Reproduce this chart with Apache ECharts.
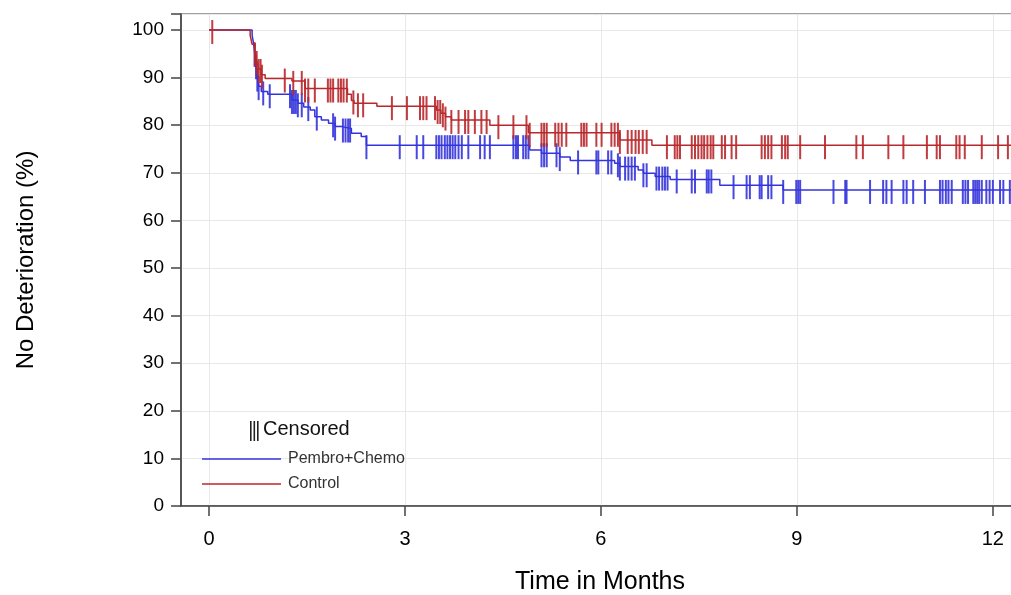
<!DOCTYPE html>
<html>
<head>
<meta charset="utf-8">
<script src="https://cdn.jsdelivr.net/npm/echarts@6/dist/echarts.min.js"></script>
<style>
html,body{margin:0;padding:0;background:#fff;}
#chart{width:1011px;height:595px;}
</style>
</head>
<body>
<div id="chart"></div>
<script>
// ---- Data ----
var seriesNames = ['Pembro+Chemo', 'Control'];
var xTicks = [0, 3, 6, 9, 12];

// Kaplan-Meier step points [month, % no deterioration]
var pembroSteps = [
  [0, 100], [0.66, 98.9], [0.68, 97.4], [0.70, 95.2], [0.72, 92.6], [0.74, 90.0],
  [0.76, 88.2], [0.80, 87.1], [0.90, 86.5], [1.27, 85.3], [1.36, 84.6], [1.45, 83.8],
  [1.55, 83.2], [1.62, 81.8], [1.72, 81.1], [1.83, 80.4], [1.93, 79.7], [2.03, 79.3],
  [2.18, 78.3], [2.33, 77.6], [2.41, 75.8], [4.91, 74.8], [5.09, 74.1], [5.37, 73.3],
  [5.53, 72.6], [6.21, 72.0], [6.29, 71.3], [6.57, 70.6], [6.65, 69.9], [6.83, 69.2],
  [7.06, 68.6], [7.82, 67.4], [8.79, 66.4], [12.4, 66.4]
];
var controlSteps = [
  [0, 100], [0.63, 98.9], [0.66, 97.0], [0.70, 95.3], [0.73, 93.5], [0.76, 91.8],
  [0.80, 90.6], [0.86, 89.8], [1.27, 89.3], [1.47, 87.7], [2.12, 86.5], [2.18, 85.2],
  [2.22, 84.6], [2.57, 84.0], [3.48, 83.2], [3.55, 82.5], [3.62, 81.8], [3.71, 81.1],
  [4.30, 80.0], [4.89, 78.4], [6.29, 76.9], [6.78, 75.8], [12.4, 75.8]
];

// Censoring times (months)
var pembroCensor = [
  0.70, 0.72, 0.74, 0.76, 0.83, 0.93, 1.24, 1.27, 1.30, 1.33, 1.36, 1.42, 1.52, 1.65,
  1.90, 1.93, 2.05, 2.09, 2.13, 2.16, 2.41, 2.92, 3.18, 3.28, 3.48, 3.52, 3.56, 3.61,
  3.65, 3.69, 3.73, 3.77, 3.82, 3.87, 3.97, 4.15, 4.22, 4.30, 4.66, 4.70, 4.73, 4.81,
  4.85, 4.89, 5.09, 5.13, 5.17, 5.32, 5.37, 5.65, 5.93, 5.96, 6.11, 6.16, 6.26, 6.29,
  6.37, 6.42, 6.47, 6.52, 6.65, 6.70, 6.85, 6.89, 6.94, 6.98, 7.02, 7.16, 7.39, 7.44,
  7.62, 7.65, 7.69, 8.03, 8.23, 8.28, 8.43, 8.46, 8.56, 8.61, 8.79, 8.99, 9.02, 9.05,
  9.56, 9.74, 9.76, 10.12, 10.32, 10.37, 10.45, 10.63, 10.68, 10.78, 10.96, 11.19,
  11.23, 11.28, 11.32, 11.37, 11.54, 11.58, 11.62, 11.70, 11.73, 11.76, 11.79, 11.83,
  11.90, 11.95, 12.00, 12.11, 12.16, 12.26
];
var controlCensor = [
  0.05, 0.70, 0.73, 0.76, 0.79, 0.81, 1.16, 1.29, 1.42, 1.47, 1.52, 1.62, 1.82, 1.86,
  1.90, 1.98, 2.02, 2.06, 2.11, 2.21, 2.28, 2.36, 2.80, 3.03, 3.23, 3.28, 3.33, 3.46,
  3.50, 3.54, 3.58, 3.62, 3.71, 3.82, 3.92, 3.97, 4.07, 4.17, 4.25, 4.43, 4.66, 4.86,
  4.91, 5.09, 5.13, 5.17, 5.30, 5.35, 5.40, 5.47, 5.70, 5.74, 5.78, 5.93, 6.01, 6.16,
  6.21, 6.26, 6.29, 6.41, 6.47, 6.53, 6.58, 6.64, 6.70, 7.01, 7.13, 7.17, 7.21, 7.39,
  7.44, 7.49, 7.54, 7.58, 7.63, 7.68, 7.72, 7.85, 7.90, 8.00, 8.07, 8.46, 8.51, 8.56,
  8.61, 8.77, 8.82, 8.86, 9.05, 9.43, 9.91, 10.01, 10.40, 10.63, 10.99, 11.14, 11.19,
  11.44, 11.49, 11.57, 11.83, 12.08, 12.23
];

// survival value at time t from the step curve
function survivalAt(steps, t) {
  var v = steps[0][1];
  for (var i = 0; i < steps.length; i++) {
    if (steps[i][0] <= t) v = steps[i][1]; else break;
  }
  return v;
}
function censorPoints(steps, times) {
  return times.map(function (t) { return [t, survivalAt(steps, t)]; });
}

var BLUE = '#3434dc';
var RED = '#b8282c';
var FONT = 'Liberation Sans, Arial, sans-serif';

var chart = echarts.init(document.getElementById('chart'), null, {renderer: 'canvas'});
chart.setOption({
  animation: false,
  backgroundColor: '#fff',
  grid: {
    left: 181, top: 14, width: 838, height: 492,
    outerBoundsMode: 'none', containLabel: false,
    show: true, borderColor: '#444', borderWidth: 1.2, backgroundColor: 'transparent'
  },
  xAxis: {
    type: 'value', min: -0.4286, max: 12.4,
    name: 'Time in Months', nameLocation: 'middle', nameGap: 64,
    nameTextStyle: {fontSize: 25, color: '#000', fontFamily: FONT},
    axisLine: {show: true, onZero: false, lineStyle: {color: '#444', width: 1.5}},
    axisTick: {show: true, length: 10, customValues: xTicks, lineStyle: {color: '#444', width: 1.5}},
    axisLabel: {customValues: xTicks, fontSize: 20, color: '#000', margin: 23, fontFamily: FONT},
    splitLine: {show: true, lineStyle: {color: '#e8e8e8', width: 1}}
  },
  yAxis: {
    type: 'value', min: 0, max: 103.36, interval: 10,
    name: 'No Deterioration (%)', nameLocation: 'middle', nameGap: 143,
    nameTextStyle: {fontSize: 24, color: '#000', fontFamily: FONT},
    axisLine: {show: true, onZero: false, lineStyle: {color: '#444', width: 1.5}},
    axisTick: {show: true, length: 10, lineStyle: {color: '#444', width: 1.5}},
    axisLabel: {fontSize: 19, color: '#000', margin: 17, fontFamily: FONT,
      formatter: function (v) { return v > 100 ? '' : String(v); }},
    splitLine: {show: true, lineStyle: {color: '#e8e8e8', width: 1}}
  },
  legend: {
    data: seriesNames,
    orient: 'vertical', left: 197, top: 446,
    icon: 'rect', itemWidth: 79, itemHeight: 1.5, itemGap: 9,
    textStyle: {fontSize: 16, color: '#333', fontFamily: FONT, padding: [0, 0, 0, 2]}
  },
  graphic: [
    {type: 'rect', left: 250, top: 421, shape: {width: 1.6, height: 20}, style: {fill: '#222'}},
    {type: 'rect', left: 253.5, top: 421, shape: {width: 1.6, height: 20}, style: {fill: '#222'}},
    {type: 'rect', left: 257, top: 421, shape: {width: 1.6, height: 20}, style: {fill: '#222'}},
    {type: 'text', left: 263, top: 419, style: {text: 'Censored', fontSize: 20, fill: '#111', fontFamily: FONT}}
  ],
  series: [
    {
      name: 'Pembro+Chemo', type: 'line', step: 'end', data: pembroSteps,
      showSymbol: false, symbol: 'none', z: 3,
      lineStyle: {color: BLUE, width: 1.5}, itemStyle: {color: BLUE}
    },
    {
      name: 'Pembro+Chemo censored', type: 'scatter', data: censorPoints(pembroSteps, pembroCensor),
      symbol: 'rect', symbolSize: [2, 24], symbolOffset: [0, 2], z: 3,
      itemStyle: {color: BLUE, opacity: 0.9}
    },
    {
      name: 'Control', type: 'line', step: 'end', data: controlSteps,
      showSymbol: false, symbol: 'none', z: 4,
      lineStyle: {color: RED, width: 1.5}, itemStyle: {color: RED}
    },
    {
      name: 'Control censored', type: 'scatter', data: censorPoints(controlSteps, controlCensor),
      symbol: 'rect', symbolSize: [2, 24], symbolOffset: [0, 2], z: 4,
      itemStyle: {color: RED, opacity: 0.9}
    }
  ]
});
</script>
</body>
</html>
